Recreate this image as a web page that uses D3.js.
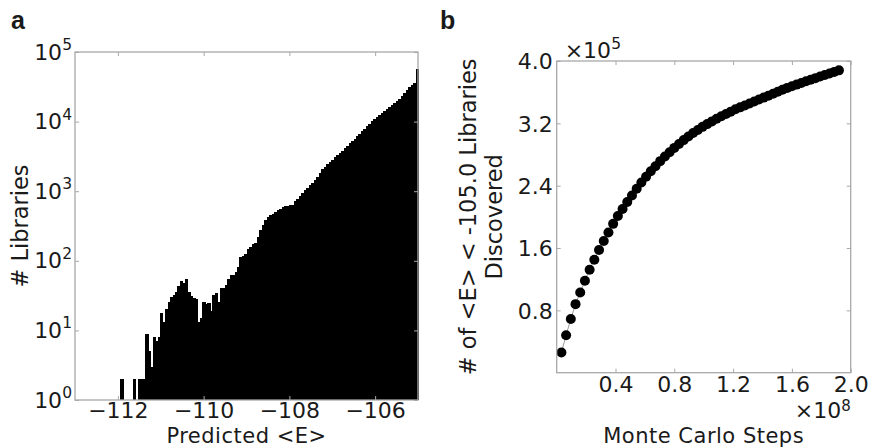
<!DOCTYPE html>
<html>
<head>
<meta charset="utf-8">
<script src="https://cdn.jsdelivr.net/npm/d3@7"></script>
<style>
body { margin: 0; background: #fff; }
text { font-family: "DejaVu Sans", sans-serif; fill: #1a1a1a; }
</style>
</head>
<body>
<svg id="fig" width="870" height="448"></svg>
<script>
// ---- panel a: histogram of predicted <E> (log counts)
var binRange = [-111.94, -105.0];
var libCounts = [
    2, 0, 0, 0, 0, 2, 0, 2, 2, 2,
    9, 5, 3, 8, 7, 8, 18, 13, 20, 26,
    30, 32, 36, 43, 51, 48, 54, 36, 31, 29,
    28, 13, 15, 26, 24, 25, 19, 32, 34, 26,
    40, 40, 45, 55, 62, 62, 70, 82, 115, 117,
    125, 150, 158, 174, 180, 220, 280, 330, 385, 420,
    455, 470, 500, 530, 560, 600, 610, 620, 630, 640,
    720, 770, 860, 950, 1030, 1120, 1220, 1330, 1450, 1600,
    1850, 2070, 2245, 2430, 2630, 2835, 3055, 3290, 3540, 3835,
    4155, 4505, 4885, 5275, 5715, 6195, 6715, 7280, 7870, 8530,
    9245, 10160, 10740, 11530, 12440, 13270, 14150, 15070, 16020, 17140,
    18370, 19680, 21090, 23010, 25410, 27990, 30900, 33900, 36300, 57500
];
var energyTicks = [-112, -110, -108, -106];
var decadeTicks = [0, 1, 2, 3, 4, 5];

// ---- panel b: libraries discovered vs Monte Carlo steps
var mcStepsMillions = [
    3.2, 6.4, 9.6, 12.8, 16.0, 19.2, 22.4, 25.6, 28.8, 32.0,
    35.2, 38.4, 41.6, 44.8, 48.0, 51.2, 54.4, 57.6, 60.8, 64.0,
    67.2, 70.4, 73.6, 76.8, 80.0, 83.2, 86.4, 89.6, 92.8, 96.0,
    99.2, 102.4, 105.6, 108.8, 112.0, 115.2, 118.4, 121.6, 124.8, 128.0,
    131.2, 134.4, 137.6, 140.8, 144.0, 147.2, 150.4, 153.6, 156.8, 160.0,
    163.2, 166.4, 169.6, 172.8, 176.0, 179.2, 182.4, 185.6, 188.8, 192.0
];
var foundThousands = [
    26, 48, 69, 88, 103, 118, 132, 145, 157.5, 169,
    180, 191, 201, 210, 219, 227.5, 236, 244, 251.5, 258.5,
    265, 271.5, 277.5, 283, 288.5, 293.5, 298.5, 303, 307.5, 311.5,
    315.5, 319, 322.5, 326, 329, 332, 335, 338, 340.5, 343,
    345.5, 348, 350.5, 353, 355.5, 358, 360.5, 363, 365.5, 367.5,
    369.7, 371.8, 373.9, 376, 378, 380, 382, 384, 386, 388
];
var stepTicks = [0.4e8, 0.8e8, 1.2e8, 1.6e8, 2.0e8];
var foundTicks = [0.8e5, 1.6e5, 2.4e5, 3.2e5, 4.0e5];

var frameColor = "#a8a8a8";
var fs = 22;    // tick labels
var fsLab = 21; // axis titles
var titleY = 442.9;
var svg = d3.select("#fig");

function drawFrame(g, box) {
    g.append("rect")
        .attr("x", box.left).attr("y", box.top)
        .attr("width", box.right - box.left).attr("height", box.bottom - box.top)
        .attr("fill", "none").attr("stroke", frameColor).attr("stroke-width", 1.3);
}

function tickMarks(g, axis, tx) {
    var a = g.append("g").attr("transform", tx).call(axis);
    a.select(".domain").remove();
    a.selectAll(".tick line").attr("stroke", frameColor);
    a.selectAll("text").style("font-size", fs + "px").style("font-family", "DejaVu Sans").attr("fill", "#1a1a1a");
    return a;
}

function axisTitle(g, x, y, label) {
    return g.append("text")
        .attr("x", x).attr("y", y)
        .attr("text-anchor", "middle")
        .style("font-size", fsLab + "px").style("letter-spacing", "0.5px")
        .text(label);
}

// ===== panel a
var boxA = {left: 75, right: 418, top: 52, bottom: 400};
var xA = d3.scaleLinear().domain([-113, -105]).range([boxA.left, boxA.right]);
var yA = d3.scaleLog().domain([1, 1e5]).range([boxA.bottom, boxA.top]);
var ga = svg.append("g");

var bw = (binRange[1] - binRange[0]) / libCounts.length;
var bins = libCounts.map(function (c, i) {
    return {x0: binRange[0] + i * bw, x1: binRange[0] + (i + 1) * bw, n: c};
}).filter(function (d) { return d.n > 0; });

ga.selectAll("rect.bar").data(bins).enter().append("rect")
    .attr("class", "bar")
    .attr("shape-rendering", "crispEdges")
    .attr("x", function (d) { return xA(d.x0); })
    .attr("width", function (d) { return xA(d.x1) - xA(d.x0) + 0.8; })
    .attr("y", function (d) { return yA(d.n); })
    .attr("height", function (d) { return yA(1) - yA(d.n); })
    .attr("fill", "#000");

tickMarks(ga, d3.axisBottom(xA).tickValues(energyTicks).tickSize(-4).tickPadding(2.4)
    .tickFormat(d3.format("d")), "translate(0," + boxA.bottom + ")");
tickMarks(ga, d3.axisTop(xA).tickValues(energyTicks).tickSize(-4).tickFormat(""), "translate(0," + boxA.top + ")");
var decVals = decadeTicks.map(function (p) { return Math.pow(10, p); });
tickMarks(ga, d3.axisLeft(yA).tickValues(decVals).tickSize(-4).tickFormat(""), "translate(" + boxA.left + ",0)");
tickMarks(ga, d3.axisRight(yA).tickValues(decVals).tickSize(-4).tickFormat(""), "translate(" + boxA.right + ",0)");

var yl = ga.selectAll("text.ylab").data(decadeTicks).enter().append("text")
    .attr("class", "ylab")
    .attr("x", boxA.left - 3)
    .attr("y", function (p) { return yA(Math.pow(10, p)) + 7.5; })
    .attr("text-anchor", "end")
    .style("font-size", fs + "px")
    .text("10");
yl.append("tspan").attr("dy", -9.5).style("font-size", "15.5px").text(function (p) { return p; });

drawFrame(ga, boxA);

axisTitle(ga, (boxA.left + boxA.right) / 2, titleY, "Predicted <E>");
ga.append("text")
    .attr("transform", "translate(27.5," + (boxA.top + boxA.bottom) / 2 + ") rotate(-90)")
    .attr("text-anchor", "middle").style("font-size", "22.5px")
    .text("# Libraries");
ga.append("text").attr("x", 11).attr("y", 28.5)
    .style("font-family", "Liberation Sans, Arial, sans-serif").style("font-weight", "bold")
    .style("font-size", "25px").text("a");

// ===== panel b
var boxB = {left: 556.7, right: 850.7, top: 61, bottom: 372.7};
var xB = d3.scaleLinear().domain([0, 2e8]).range([boxB.left, boxB.right]);
var yB = d3.scaleLinear().domain([0, 4e5]).range([boxB.bottom, boxB.top]);
var gb = svg.append("g");

var pts = mcStepsMillions.map(function (s, i) {
    return {x: s * 1e6, y: foundThousands[i] * 1e3};
});

gb.append("path").datum(pts)
    .attr("d", d3.line().x(function (d) { return xB(d.x); }).y(function (d) { return yB(d.y); }))
    .attr("fill", "none").attr("stroke", "#9a9a9a").attr("stroke-width", 1);
gb.selectAll("circle").data(pts).enter().append("circle")
    .attr("cx", function (d) { return xB(d.x); })
    .attr("cy", function (d) { return yB(d.y); })
    .attr("r", 5).attr("fill", "#000");

var fmt1 = d3.format(".1f");
tickMarks(gb, d3.axisBottom(xB).tickValues(stepTicks).tickSize(-4).tickPadding(3.4)
    .tickFormat(function (d) { return fmt1(d / 1e8); }), "translate(0," + boxB.bottom + ")");
tickMarks(gb, d3.axisTop(xB).tickValues(stepTicks).tickSize(-4).tickFormat(""), "translate(0," + boxB.top + ")");
tickMarks(gb, d3.axisLeft(yB).tickValues(foundTicks).tickSize(-4).tickPadding(4)
    .tickFormat(function (d) { return fmt1(d / 1e5); }), "translate(" + boxB.left + ",0)")
    .selectAll("text").attr("dy", "0.36em");
tickMarks(gb, d3.axisRight(yB).tickValues(foundTicks).tickSize(-4).tickFormat(""), "translate(" + boxB.right + ",0)");

drawFrame(gb, boxB);

// offset multipliers
var m5 = gb.append("text").attr("x", boxB.left + 8).attr("y", 58.3).style("font-size", fs + "px").text("\u00d710");
m5.append("tspan").attr("dy", -9.5).style("font-size", "15.5px").text("5");
var m8 = gb.append("text").attr("x", boxB.right).attr("y", 418).attr("text-anchor", "end")
    .style("font-size", fs + "px").text("\u00d710");
m8.append("tspan").attr("dy", -7.5).style("font-size", "15px").text("8");

axisTitle(gb, (boxB.left + boxB.right) / 2, titleY, "Monte Carlo Steps");
var ylb = gb.append("text")
    .attr("transform", "translate(476," + (boxB.top + boxB.bottom) / 2 + ") rotate(-90)")
    .attr("text-anchor", "middle").style("font-size", "22.5px");
ylb.append("tspan").attr("x", 0).attr("y", 0).text("# of <E> < -105.0 Libraries");
ylb.append("tspan").attr("x", 0).attr("y", 25.5).text("Discovered");
gb.append("text").attr("x", 440).attr("y", 28.5)
    .style("font-family", "Liberation Sans, Arial, sans-serif").style("font-weight", "bold")
    .style("font-size", "25px").text("b");
</script>
</body>
</html>
